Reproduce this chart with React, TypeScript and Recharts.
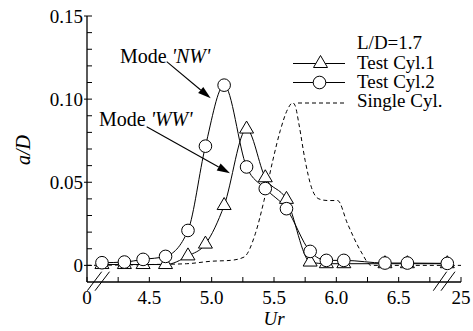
import React from 'react';
import { LineChart, Line, XAxis, YAxis, Legend } from 'recharts';

// Ur values where both test cylinders were measured
const urTest = [4.12, 4.3, 4.45, 4.63, 4.81, 4.95, 5.1, 5.28, 5.43, 5.6, 5.79, 5.92, 6.06, 6.39, 6.57, 6.89];
// a/D for Test Cyl.1 (triangles)
const cyl1 = [0.0005, 0.0005, 0.0005, 0.0005, 0.0057, 0.0128, 0.036, 0.082, 0.0527, 0.0397, 0.002, 0.001, 0.001, 0.001, 0.001, 0.001];
// a/D for Test Cyl.2 (circles)
const cyl2 = [0.0016, 0.002, 0.0036, 0.0054, 0.021, 0.0717, 0.1084, 0.0592, 0.0462, 0.0341, 0.0084, 0.003, 0.003, 0.0014, 0.0014, 0.0012];

// single cylinder response curve (dashed)
const urSingle = [4.0, 4.5, 4.8, 5.0, 5.15, 5.26, 5.35, 5.42, 5.49, 5.55, 5.61, 5.65, 5.67, 5.7, 5.75, 5.8, 5.86, 5.93, 6.01, 6.09, 6.2, 6.28, 6.4, 7.0];
const single = [0.0, 0.0005, 0.001, 0.0025, 0.003, 0.005, 0.019, 0.039, 0.063, 0.081, 0.094, 0.0978, 0.096, 0.085, 0.063, 0.047, 0.04, 0.039, 0.039, 0.025, 0.008, 0.0, 0.0, 0.0];

const xTicks = [4, 4.25, 4.5, 4.75, 5, 5.25, 5.5, 5.75, 6, 6.25, 6.5, 6.75, 7];
const xMajor = [4, 4.5, 5, 5.5, 6, 6.5, 7];
const xMajorLabels = ['0', '4.5', '5.0', '5.5', '6.0', '6.5', '25'];
const yTicks = [0, 0.01, 0.02, 0.03, 0.04, 0.05, 0.06, 0.07, 0.08, 0.09, 0.1, 0.11, 0.12, 0.13, 0.14, 0.15];
const yMajor = [0, 0.05, 0.1, 0.15];
const yMajorLabels = ['0', '0.05', '0.10', '0.15'];

const testData = urTest.map((ur, i) => ({ ur, cyl1: cyl1[i], cyl2: cyl2[i] }));
const singleData = urSingle.map((ur, i) => ({ ur, single: single[i] }));

const FONT = "'Liberation Serif', 'DejaVu Serif', 'Noto Serif', serif";
const serif = { fontFamily: FONT };

const BottomTick = (props: any) => {
  const { x, y, payload } = props;
  const i = xMajor.indexOf(payload.value);
  return (
    <g>
      <line x1={x} x2={x} y1={y} y2={y - 5} stroke="#000" />
      {i >= 0 && (
        <text x={x} y={y + 22} textAnchor="middle" style={serif} fontSize={19} fill="#000">
          {xMajorLabels[i]}
        </text>
      )}
    </g>
  );
};

const TopTick = (props: any) => {
  const { x, y } = props;
  return <line x1={x} x2={x} y1={y} y2={y + 5} stroke="#000" />;
};

const LeftTick = (props: any) => {
  const { x, y, payload } = props;
  const i = yMajor.indexOf(payload.value);
  return (
    <g>
      <line x1={i >= 0 ? x - 3 : x} x2={x + 5} y1={y} y2={y} stroke="#000" />
      {i >= 0 && (
        <text x={x - 4} y={y + 6.5} textAnchor="end" style={serif} fontSize={19} fill="#000">
          {yMajorLabels[i]}
        </text>
      )}
    </g>
  );
};

const RightTick = (props: any) => {
  const { x, y } = props;
  return <line x1={x} x2={x - 5} y1={y} y2={y} stroke="#000" />;
};

const Triangle = (props: any) => {
  const { cx, cy, index } = props;
  return (
    <polygon
      key={`t${index}`}
      points={`${cx},${cy - 8} ${cx - 7},${cy + 4} ${cx + 7},${cy + 4}`}
      fill="#fff"
      stroke="#000"
      strokeWidth={1}
    />
  );
};

const Circle = (props: any) => {
  const { cx, cy, index } = props;
  return <circle key={`c${index}`} cx={cx} cy={cy} r={6.3} fill="#fff" stroke="#000" strokeWidth={1} />;
};

const LegendBox = () => (
  <svg width={180} height={90} style={{ overflow: 'visible' }}>
    <g style={serif} fontSize={19} fill="#000">
      <text x={72} y={20.5}>L/D=1.7</text>
      <line x1={8} x2={60} y1={35.5} y2={35.5} stroke="#000" />
      <polygon points="35.5,27.5 28.5,39.5 42.5,39.5" fill="#fff" stroke="#000" />
      <text x={72} y={40.5}>Test Cyl.1</text>
      <line x1={8} x2={60} y1={54.5} y2={54.5} stroke="#000" />
      <circle cx={34.5} cy={54.5} r={6.3} fill="#fff" stroke="#000" />
      <text x={72} y={59.5}>Test Cyl.2</text>
      <line x1={13} x2={60} y1={75} y2={75} stroke="#000" strokeDasharray="4 3" />
      <text x={72} y={79}>Single Cyl.</text>
    </g>
  </svg>
);

const Arrow = ({ x1, y1, x2, y2 }: { x1: number; y1: number; y2: number; x2: number }) => {
  const dx = x2 - x1;
  const dy = y2 - y1;
  const len = Math.hypot(dx, dy);
  const ux = dx / len;
  const uy = dy / len;
  const bx = x2 - 13 * ux;
  const by = y2 - 13 * uy;
  const nx = -uy * 4;
  const ny = ux * 4;
  return (
    <g>
      <line x1={x1} y1={y1} x2={bx} y2={by} stroke="#000" strokeWidth={1.1} />
      <polygon points={`${x2},${y2} ${bx + nx},${by + ny} ${bx - nx},${by - ny}`} fill="#000" />
    </g>
  );
};

export default function App() {
  return (
    <div style={{ position: 'absolute', left: 0, top: 0, width: 473, height: 331, background: '#fff', fontFamily: FONT }}>
      <LineChart width={473} height={331} margin={{ top: 16, right: 12, left: 0, bottom: 0 }}>
        <XAxis
          dataKey="ur"
          type="number"
          domain={[4, 7]}
          ticks={xTicks}
          interval={0}
          allowDataOverflow
          height={49}
          tickSize={0}
          tickMargin={0}
          tickLine={false}
          tick={BottomTick}
          axisLine={{ stroke: '#000', strokeWidth: 1.3 }}
        />
        <XAxis
          xAxisId="top"
          orientation="top"
          dataKey="ur"
          type="number"
          domain={[4, 7]}
          ticks={xTicks}
          interval={0}
          height={0}
          tickSize={0}
          tickMargin={0}
          tickLine={false}
          tick={TopTick}
          axisLine={{ stroke: '#000', strokeWidth: 1.3 }}
        />
        <YAxis
          type="number"
          domain={[-0.01, 0.15]}
          ticks={yTicks}
          interval={0}
          allowDataOverflow
          width={87}
          tickSize={0}
          tickMargin={0}
          tickLine={false}
          tick={LeftTick}
          axisLine={{ stroke: '#000', strokeWidth: 1.3 }}
        />
        <YAxis
          yAxisId="right"
          orientation="right"
          type="number"
          domain={[-0.01, 0.15]}
          ticks={yTicks}
          interval={0}
          width={0}
          tickSize={0}
          tickMargin={0}
          tickLine={false}
          tick={RightTick}
          axisLine={{ stroke: '#000', strokeWidth: 1.3 }}
        />
        <Legend
          layout="vertical"
          align="center"
          verticalAlign="middle"
          content={LegendBox}
          wrapperStyle={{ left: 285, top: 28, width: 180, height: 90 }}
        />
        <Line
          data={singleData}
          dataKey="single"
          name="Single Cyl."
          type="monotone"
          stroke="#000"
          strokeWidth={1}
          strokeDasharray="4 3"
          dot={false}
          isAnimationActive={false}
        />
        <Line
          data={testData}
          dataKey="cyl1"
          name="Test Cyl.1"
          type="monotone"
          stroke="#000"
          strokeWidth={1}
          dot={Triangle}
          isAnimationActive={false}
        />
        <Line
          data={testData}
          dataKey="cyl2"
          name="Test Cyl.2"
          type="monotone"
          stroke="#000"
          strokeWidth={1}
          dot={Circle}
          isAnimationActive={false}
        />
      </LineChart>
      <svg
        width={473}
        height={331}
        style={{ position: 'absolute', left: 0, top: 0, pointerEvents: 'none' }}
      >
        <g style={serif} fill="#000">
          <text x={30} y={150} fontSize={20} fontStyle="italic" textAnchor="middle" transform="rotate(-90 30 150)">
            a/D
          </text>
          <text x={274} y={325} fontSize={19} fontStyle="italic" textAnchor="middle">
            Ur
          </text>
          <text x={120} y={63} fontSize={20}>
            Mode <tspan fontStyle="italic">'NW'</tspan>
          </text>
          <text x={99} y={126} fontSize={20}>
            Mode <tspan fontStyle="italic">'WW'</tspan>
          </text>
        </g>
        <Arrow x1={166.7} y1={61.7} x2={210.7} y2={98.3} />
        <Arrow x1={146.7} y1={126.7} x2={230} y2={173.3} />
        <g stroke="#000" strokeWidth={1}>
          <line x1={87.3} y1={290.7} x2={101.7} y2={271.7} />
          <line x1={95} y1={290.7} x2={109.5} y2={271.7} />
          <line x1={433.3} y1={290.7} x2={446.7} y2={271.7} />
          <line x1={441} y1={290.7} x2={455} y2={271.7} />
        </g>
      </svg>
    </div>
  );
}
